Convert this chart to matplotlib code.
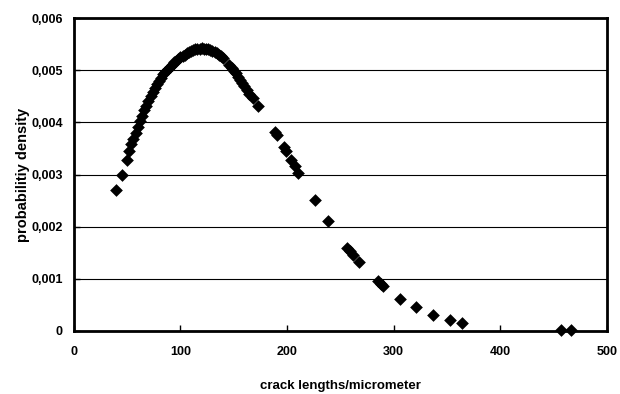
import matplotlib
matplotlib.use('Agg')
import matplotlib.pyplot as plt
from matplotlib.ticker import FuncFormatter

# values
crack_len = [40, 45, 50, 52, 54, 56, 58, 60, 62, 64, 66, 68, 70, 72, 74, 76,
             78, 80, 82, 84, 86, 88, 90, 92, 94, 96, 98, 100, 102, 104, 106,
             108, 110, 112, 114, 116, 118, 120, 122, 124, 126, 128, 130, 132,
             134, 136, 138, 140, 146, 148, 150, 152, 154, 156, 158, 160, 162,
             164, 168, 173, 189, 191, 197, 199, 204, 207, 210, 226, 238, 256,
             259, 262, 267, 285, 288, 290, 306, 321, 337, 353, 364, 457, 466]
density = [0.00270, 0.00299, 0.00328, 0.00345, 0.00358, 0.00368, 0.00380,
           0.00392, 0.00402, 0.00413, 0.00423, 0.00432, 0.00441, 0.00450,
           0.00458, 0.00466, 0.00473, 0.00480, 0.00486, 0.00492, 0.00497,
           0.00502, 0.00506, 0.00511, 0.00515, 0.00518, 0.00522, 0.00525,
           0.00528, 0.00530, 0.00533, 0.00535, 0.00537, 0.00538, 0.00540,
           0.00541, 0.00541, 0.00542, 0.00541, 0.00541, 0.00540, 0.00539,
           0.00537, 0.00535, 0.00533, 0.00530, 0.00527, 0.00524, 0.00510,
           0.00505, 0.00499, 0.00494, 0.00488, 0.00482, 0.00476, 0.00469,
           0.00462, 0.00455, 0.00446, 0.00432, 0.00382, 0.00375, 0.00353,
           0.00345, 0.00328, 0.00316, 0.00303, 0.00251, 0.00211, 0.00160,
           0.00153, 0.00145, 0.00132, 0.00096, 0.00090, 0.00086, 0.00061,
           0.00045, 0.00031, 0.00021, 0.00016, 0.00001, 0.00001]

x_ticks = [0, 100, 200, 300, 400, 500]
y_ticks = [0, 0.001, 0.002, 0.003, 0.004, 0.005, 0.006]

plt.rcParams['font.family'] = ['Liberation Sans', 'DejaVu Sans']
plt.rcParams['font.weight'] = 'bold'


def comma_fmt(v, pos):
    if v == 0:
        return '0'
    return f'{v:.3f}'.replace('.', ',')


fig = plt.figure(figsize=(6.2, 3.94), dpi=100)
ax = fig.add_axes([0.119, 0.160, 0.860, 0.794])

ax.scatter(crack_len, density, marker='D', s=42, color='black', zorder=3,
           clip_on=False, linewidths=0)

ax.set_xlim(0, 500)
ax.set_ylim(0, 0.006)
ax.set_xticks(x_ticks)
ax.set_yticks(y_ticks)
ax.yaxis.set_major_formatter(FuncFormatter(comma_fmt))
ax.grid(axis='y', color='black', linewidth=0.8)
ax.set_axisbelow(True)
ax.tick_params(direction='in', length=4, width=1, labelsize=9)
ax.tick_params(axis='x', pad=11)
ax.tick_params(axis='y', pad=8)
for spine in ax.spines.values():
    spine.set_linewidth(2)

ax.set_xlabel('crack lengths/micrometer', fontsize=9.5, fontweight='bold')
ax.set_ylabel('probabilitiy density', fontsize=10.5, fontweight='bold')
ax.xaxis.set_label_coords(0.5, -0.158)
ax.yaxis.set_label_coords(-0.082, 0.5)

fig.savefig('out.png', dpi=100)
